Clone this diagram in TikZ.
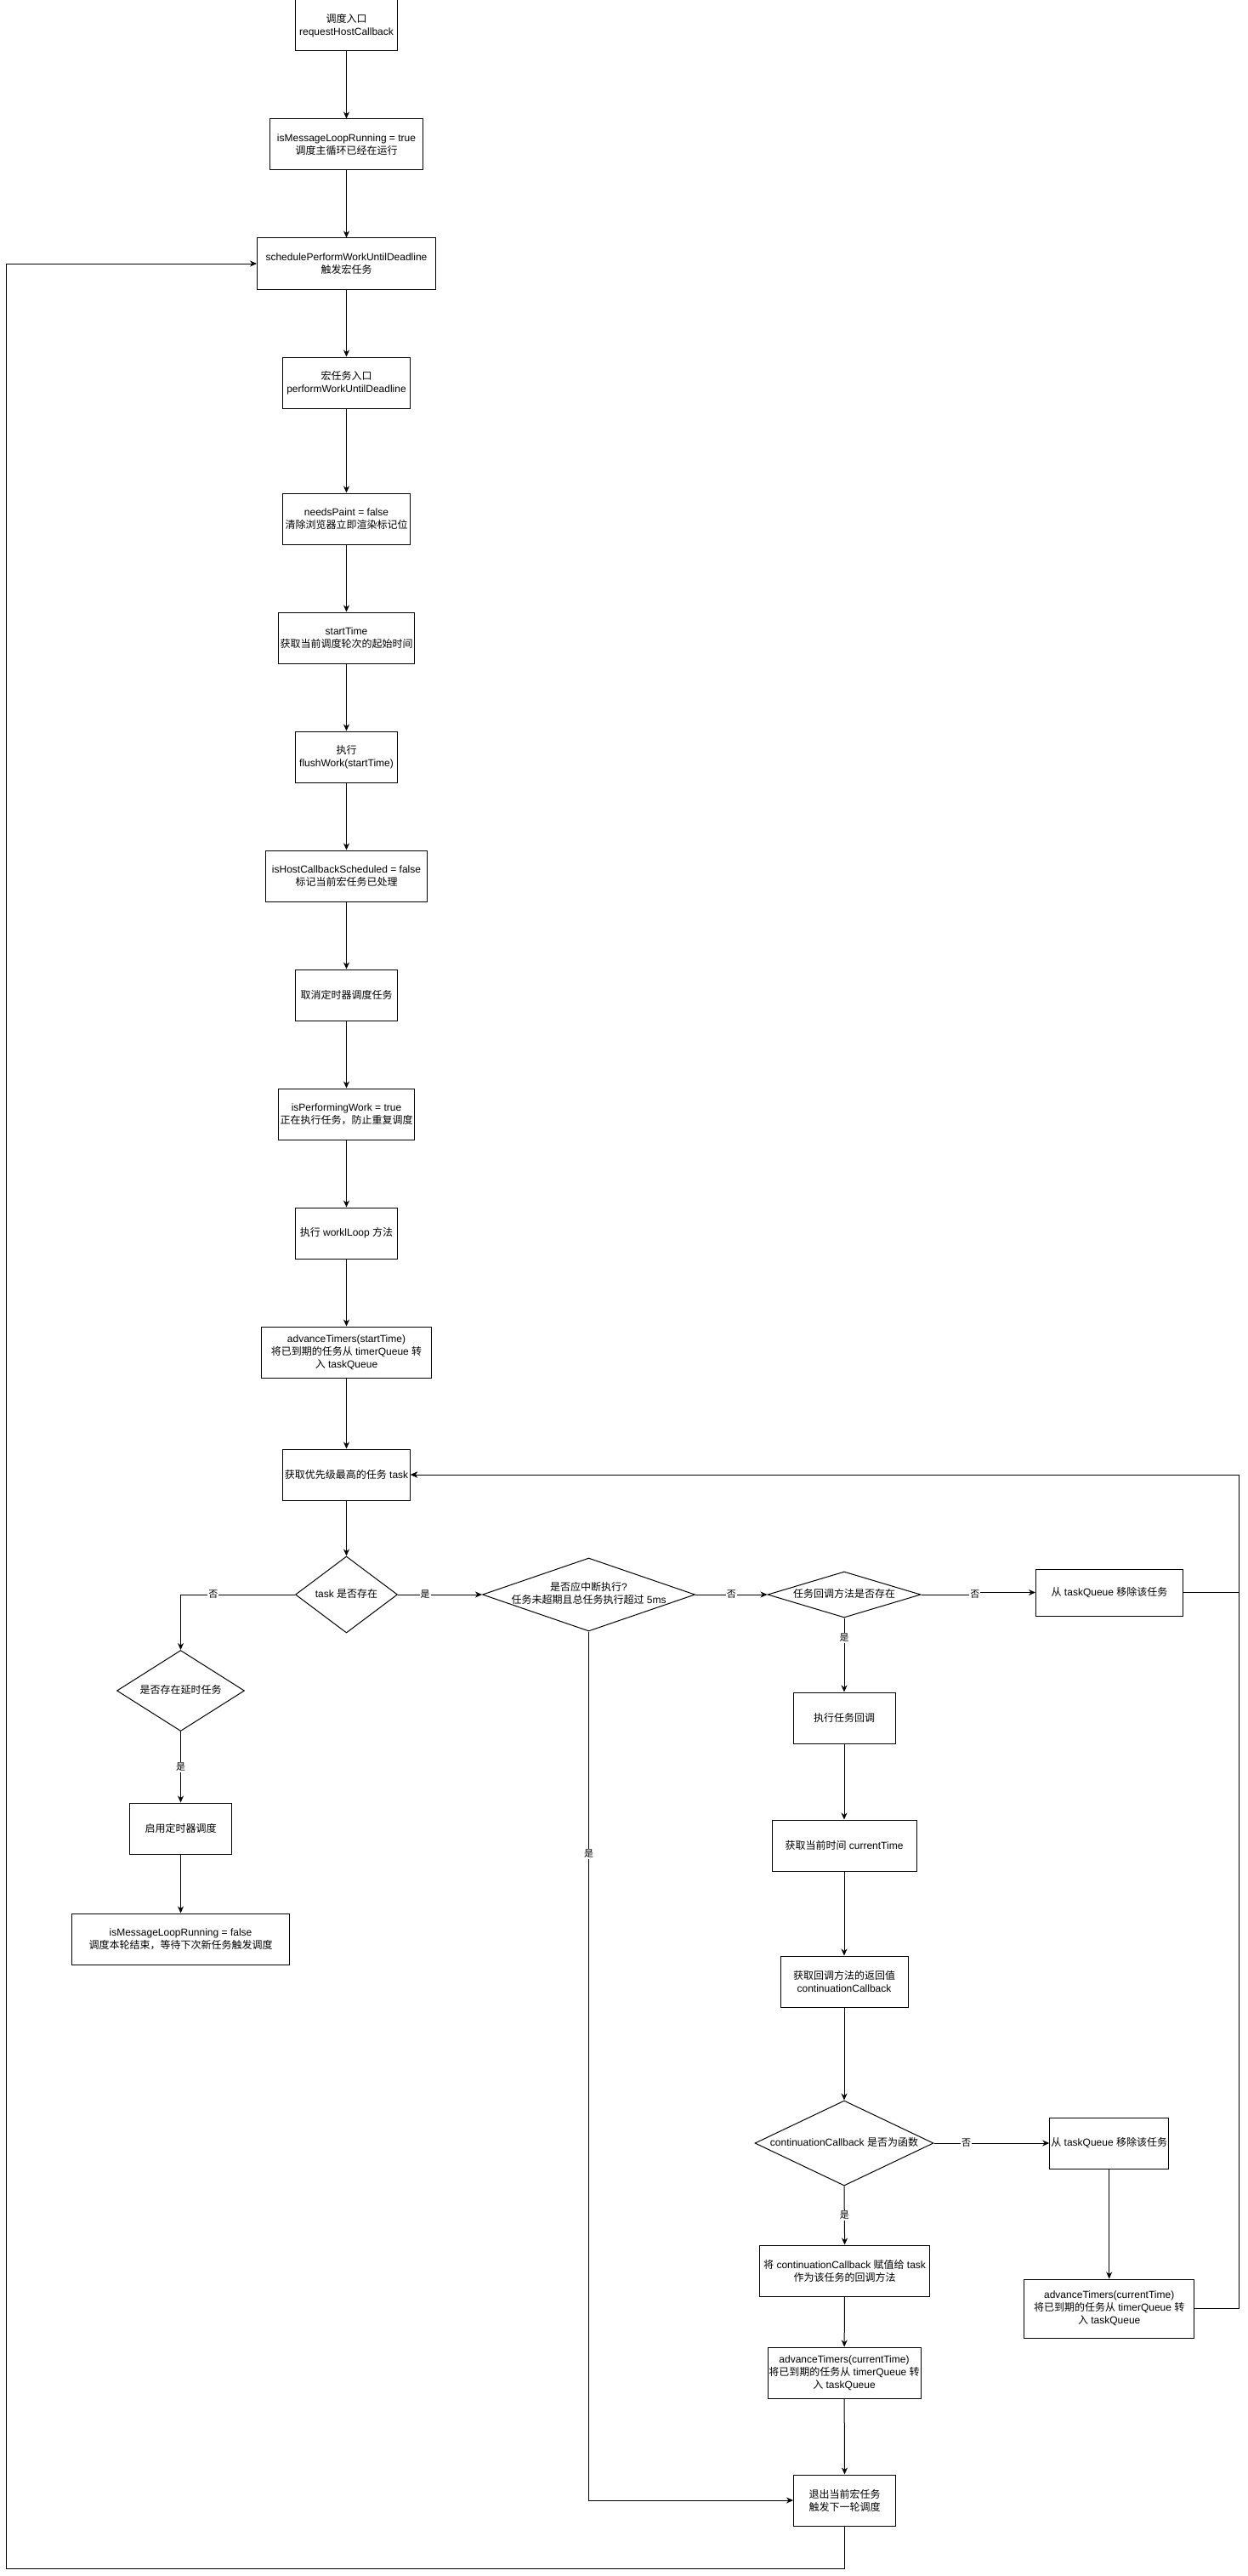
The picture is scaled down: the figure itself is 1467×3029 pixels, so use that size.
\documentclass[tikz,border=0pt]{standalone}
\usepackage{fontspec}
\setmainfont{Liberation Sans}
\newfontfamily\cjk{Noto Sans CJK SC}
\usetikzlibrary{shapes.geometric,arrows.meta}
\newcommand{\zh}[1]{{\cjk #1}}
\newcommand{\dtxt}[1]{\makebox[0pt]{\begin{tabular}{@{}c@{}}#1\end{tabular}}}
\tikzset{
	box/.style = { draw, rectangle, inner sep=0pt, align=center, minimum height=60pt, font=\fontsize{12}{15}\selectfont },
	dia/.style = { draw, diamond, inner sep=0pt, font=\fontsize{12}{15}\selectfont },
	arrow/.style = { -{Stealth[length=8pt,width=7pt,inset=2.5pt]} },
	lbl/.style = { fill=white, inner sep=1pt, font=\fontsize{11}{13}\selectfont },
}

\begin{document}
\begin{tikzpicture}[x=1pt, y=-1pt, line width=1pt]
\useasboundingbox (0,0) rectangle (1467,3029);

\node[box, minimum width=120pt] (entry)       at (407.5,30)   {\zh{调度入口}\\requestHostCallback};
\node[box, minimum width=180pt] (loopOn)      at (407.5,170)  {isMessageLoopRunning = true\\\zh{调度主循环已经在运行}};
\node[box, minimum width=210pt] (schedule)    at (407.5,310)  {schedulePerformWorkUntilDeadline\\\zh{触发宏任务}};
\node[box, minimum width=150pt] (macroEntry)  at (407.5,450)  {\zh{宏任务入口}\\performWorkUntilDeadline};
\node[box, minimum width=150pt] (paint)       at (407.5,610)  {needsPaint = false\\\zh{清除浏览器立即渲染标记位}};
\node[box, minimum width=160pt] (start)       at (407.5,750)  {startTime\\\zh{获取当前调度轮次的起始时间}};
\node[box, minimum width=120pt] (flush)       at (407.5,890)  {\zh{执行}\\flushWork(startTime)};
\node[box, minimum width=190pt] (hostCb)      at (407.5,1030) {isHostCallbackScheduled = false\\\zh{标记当前宏任务已处理}};
\node[box, minimum width=120pt] (cancelTimer) at (407.5,1170) {\zh{取消定时器调度任务}};
\node[box, minimum width=160pt] (performing)  at (407.5,1310) {isPerformingWork = true\\\zh{正在执行任务，防止重复调度}};
\node[box, minimum width=120pt] (workLoop)    at (407.5,1450) {\zh{执行} worklLoop \zh{方法}};
\node[box, minimum width=200pt] (advStart)    at (407.5,1590) {advanceTimers(startTime)\\\zh{将已到期的任务从} timerQueue \zh{转}\\\zh{入} taskQueue};
\node[box, minimum width=150pt] (pickTask)    at (407.5,1734) {\zh{获取优先级最高的任务} task};

\node[dia, minimum width=120pt, minimum height=90pt]  (hasTask)     at (407.5,1875) {\dtxt{task \zh{是否存在}}};
\node[dia, minimum width=250pt, minimum height=86pt]  (shouldYield) at (692.5,1875) {\dtxt{\zh{是否应中断执行}?\\\zh{任务未超期且总任务执行超过} 5ms}};
\node[dia, minimum width=180pt, minimum height=54pt]  (hasCb)       at (993,1875)   {\dtxt{\zh{任务回调方法是否存在}}};
\node[box, minimum width=173pt, minimum height=55pt]  (dropTask)    at (1305,1872.5) {\zh{从} taskQueue \zh{移除该任务}};

\node[dia, minimum width=150pt, minimum height=95pt]  (hasDelay)    at (212.5,1988) {\dtxt{\zh{是否存在延时任务}}};
\node[box, minimum width=120pt] (startTimer)  at (212.5,2150) {\zh{启用定时器调度}};
\node[box, minimum width=256pt] (loopOff)     at (212.5,2280) {isMessageLoopRunning = false\\\zh{调度本轮结束，等待下次新任务触发调度}};

\node[box, minimum width=120pt] (runCb)       at (993,2020)   {\zh{执行任务回调}};
\node[box, minimum width=170pt] (curTime)     at (993,2170)   {\zh{获取当前时间} currentTime};
\node[box, minimum width=150pt] (contCb)      at (993,2330)   {\zh{获取回调方法的返回值}\\continuationCallback};
\node[dia, minimum width=210pt, minimum height=100pt] (isFunc)      at (993,2520)   {\dtxt{continuationCallback \zh{是否为函数}}};
\node[box, minimum width=140pt] (dropTask2)   at (1304.7,2520) {\zh{从} taskQueue \zh{移除该任务}};
\node[box, minimum width=200pt, minimum height=69pt] (advCur2) at (1304.7,2714.5) {advanceTimers(currentTime)\\\zh{将已到期的任务从} timerQueue \zh{转}\\\zh{入} taskQueue};
\node[box, minimum width=200pt] (assignCb)    at (993.6,2670) {\zh{将} continuationCallback \zh{赋值给} task\\\zh{作为该任务的回调方法}};
\node[box, minimum width=180pt] (advCur)      at (993,2790)   {advanceTimers(currentTime)\\\zh{将已到期的任务从} timerQueue \zh{转}\\\zh{入} taskQueue};
\node[box, minimum width=120pt] (exitMacro)   at (993.6,2940) {\zh{退出当前宏任务}\\\zh{触发下一轮调度}};

\coordinate (rail) at (1457,0);
\coordinate (back) at (7,3020);

\draw[arrow] (entry) -- (loopOn);
\draw[arrow] (loopOn) -- (schedule);
\draw[arrow] (schedule) -- (macroEntry);
\draw[arrow] (macroEntry) -- (paint);
\draw[arrow] (paint) -- (start);
\draw[arrow] (start) -- (flush);
\draw[arrow] (flush) -- (hostCb);
\draw[arrow] (hostCb) -- (cancelTimer);
\draw[arrow] (cancelTimer) -- (performing);
\draw[arrow] (performing) -- (workLoop);
\draw[arrow] (workLoop) -- (advStart);
\draw[arrow] (advStart) -- (pickTask);
\draw[arrow] (pickTask) -- (hasTask);

\draw[arrow] (hasTask.east) -- node[lbl, pos=0.325] {\zh{是}} (shouldYield.west);
\draw[arrow] (hasTask.west) -| node[lbl, pos=0.357] {\zh{否}} (hasDelay.north);
\draw[arrow] (hasDelay.south) -- node[lbl] {\zh{是}} (startTimer.north);
\draw[arrow] (startTimer) -- (loopOff);
\draw[arrow] (shouldYield.east) -- node[lbl] {\zh{否}} (hasCb.west);
\draw[arrow] (shouldYield.south) |- node[lbl, pos=0.128] {\zh{是}} (exitMacro.west);
\draw[arrow] (hasCb.east) -- node[lbl, pos=0.93] {\zh{否}} ++(68,0) |- (dropTask.west);
\draw[arrow] (hasCb.south) -- node[lbl, pos=0.27] {\zh{是}} (runCb.north);
\draw[arrow] (dropTask.east) -- (dropTask.east -| rail) |- (pickTask.east);

\draw[arrow] (runCb) -- (curTime);
\draw[arrow] (curTime) -- (contCb);
\draw[arrow] (contCb) -- (isFunc);
\draw[arrow] (isFunc.east) -- node[lbl, pos=0.28] {\zh{否}} (dropTask2.west);
\draw[arrow] (isFunc.south) -- node[lbl] {\zh{是}} (assignCb.north);
\draw[arrow] (dropTask2) -- (advCur2);
\draw[arrow] (advCur2.east) -- (advCur2.east -| rail) |- (pickTask.east);
\draw[arrow] (assignCb) -- (advCur);
\draw[arrow] (advCur) -- (exitMacro);
\draw[arrow] (exitMacro.south) |- (back) |- (schedule.west);
\end{tikzpicture}
\end{document}
